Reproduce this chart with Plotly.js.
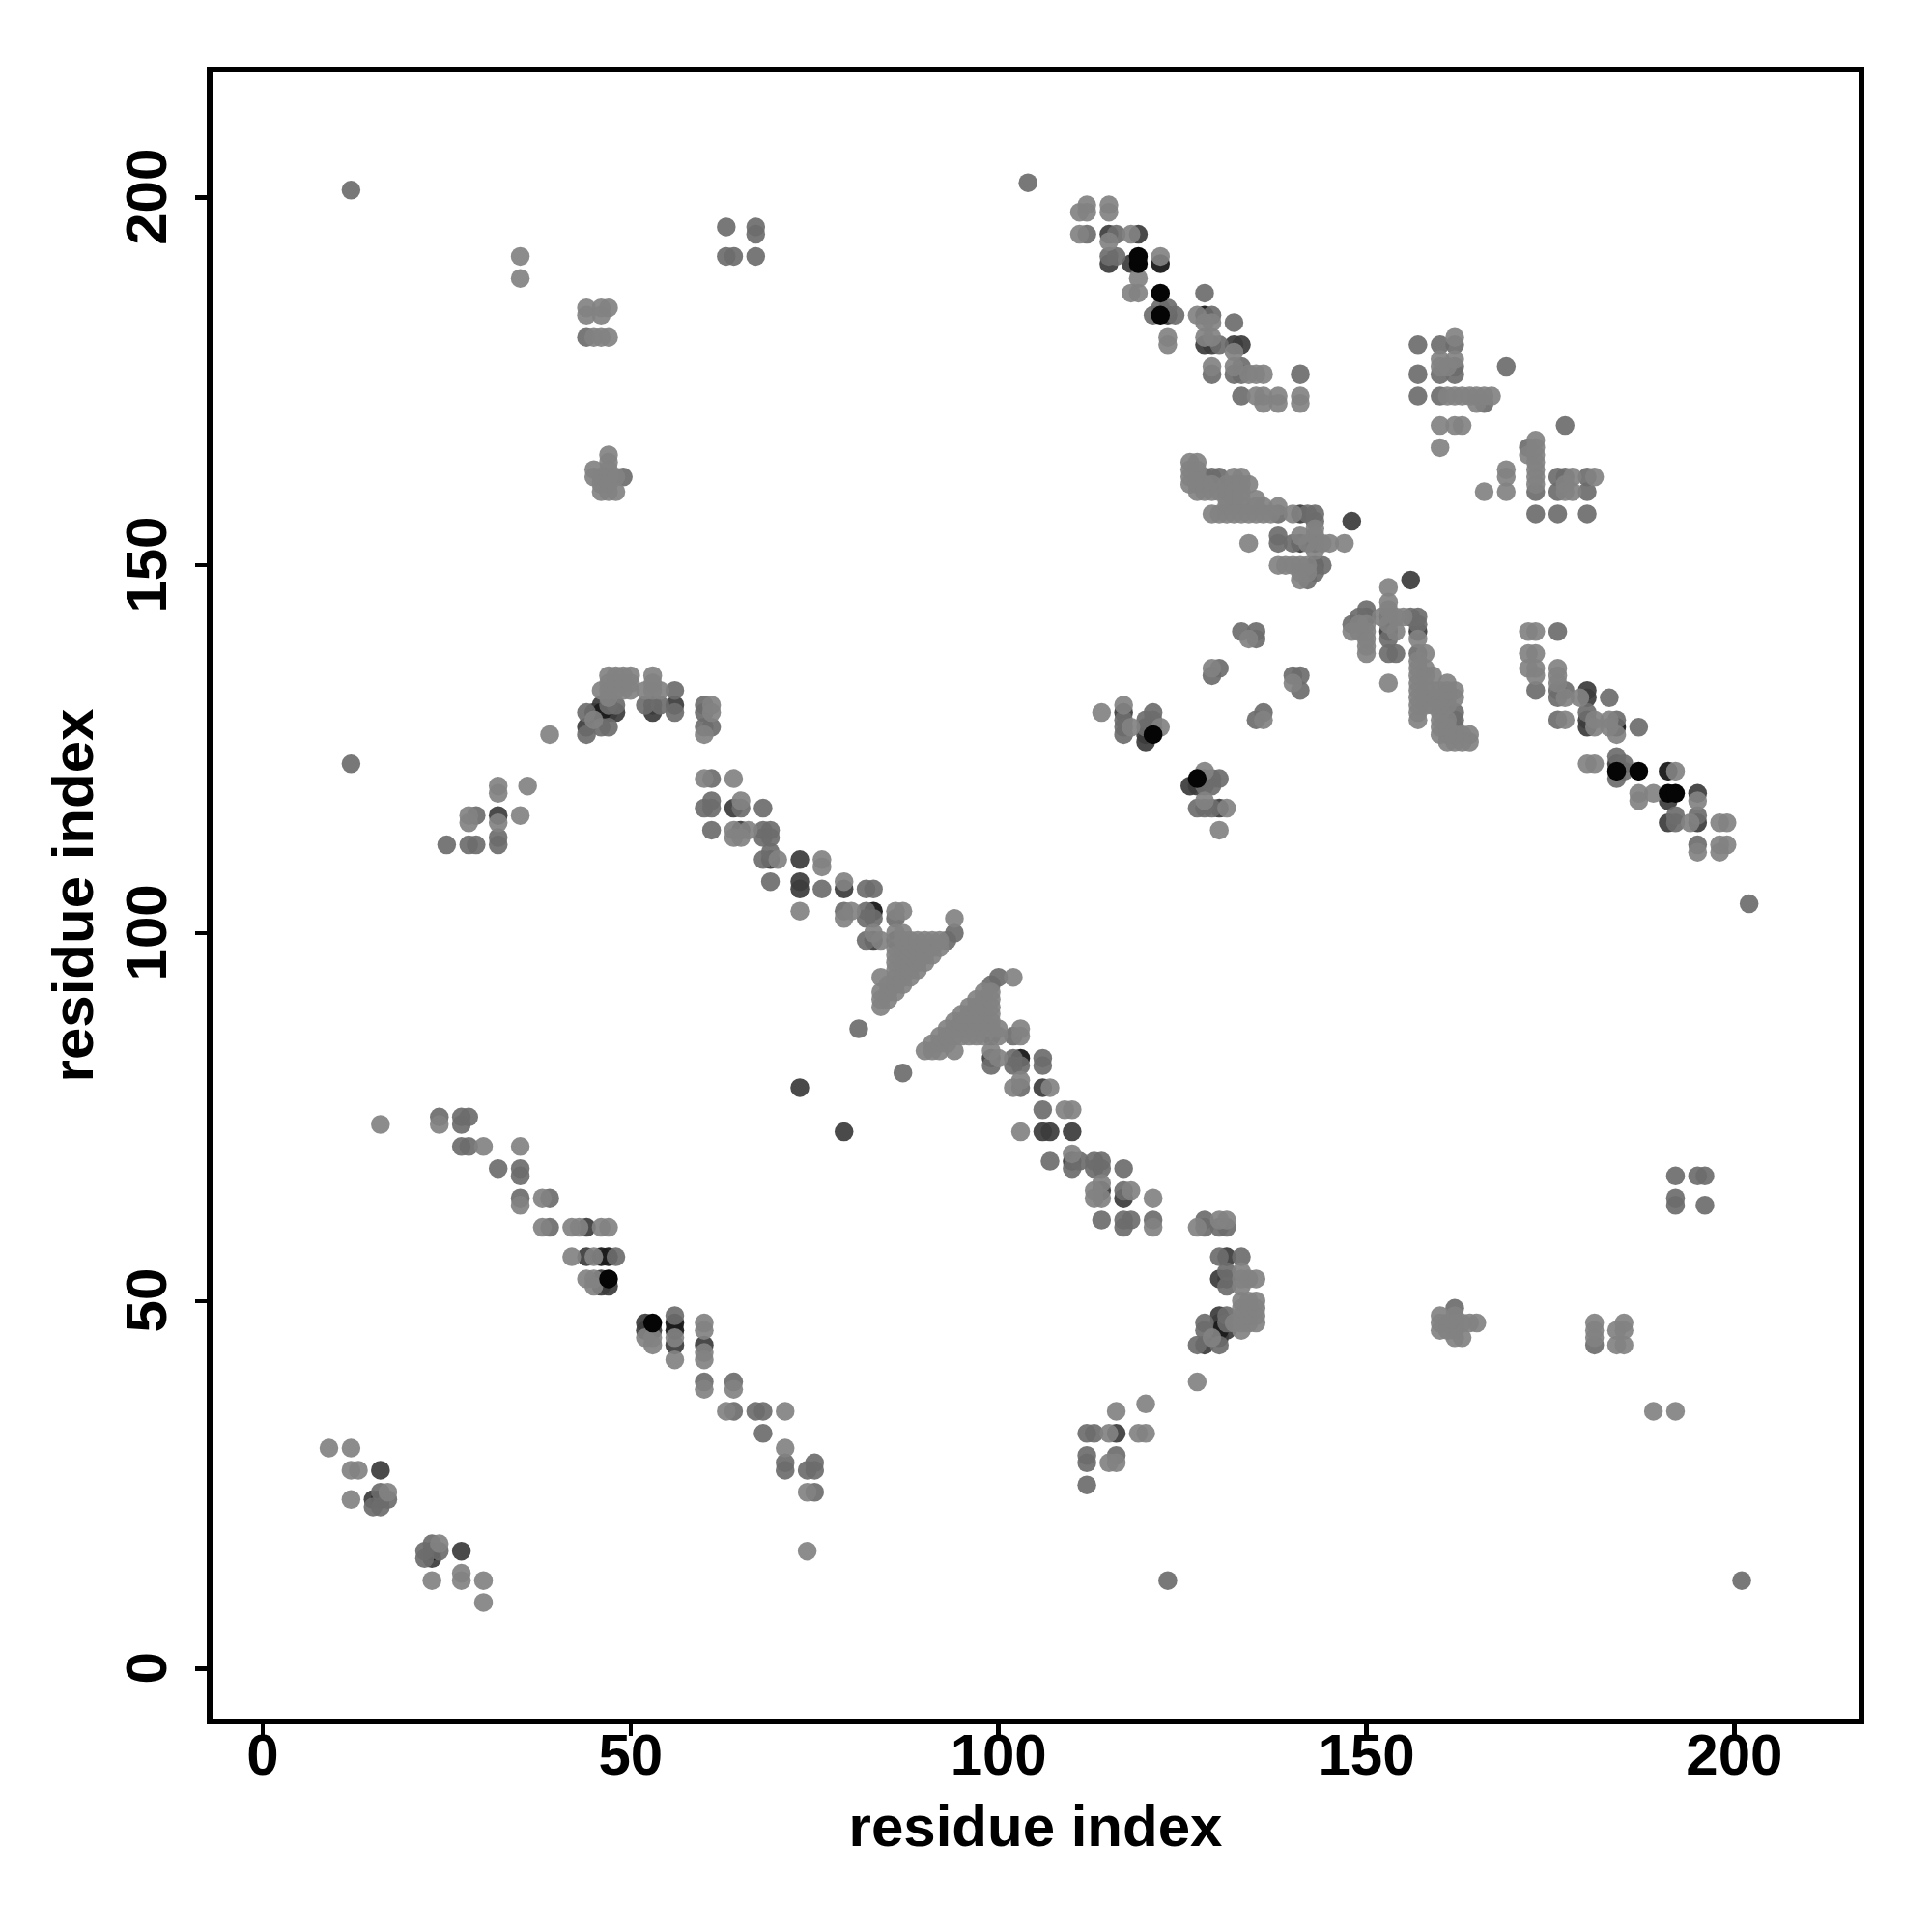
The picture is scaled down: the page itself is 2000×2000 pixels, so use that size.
<!DOCTYPE html>
<html><head><meta charset="utf-8">
<script src="https://cdn.plot.ly/plotly-3.0.1.min.js"></script>
<style>html,body{margin:0;padding:0;background:#fff}</style></head>
<body><div id="chart" style="width:2000px;height:2000px"></div>
<script>
const contactsBlack = [[47,53],[119,191],[119,192],[122,187],[122,184],[121,127]];
const contactsVeryDark = [[47,56],[46,56],[83,103],[122,191],[16,23],[143,153],[128,184],[46,130]];
const contactsDark = [[16,27],[15,23],[44,60],[44,56],[46,53],[46,52],[47,52],
 [47,130],[48,130],[53,130],[56,131],[32,116],[73,110],[73,107],[73,106],[79,106],[83,99],[86,99],
 [64,117],[65,114],[69,110],[73,79],[115,195],[119,195],[115,191],[118,191],[123,184],[128,180],[129,180],
 [132,180],[133,180],[141,157],[148,156],[141,153],[143,150],[120,126],[120,127],[127,120],[130,117],
 [131,56],[130,53],[131,53],[128,44],[130,45],[130,47],[131,46]];
const contactsMid = [[15,22],[16,22],[16,24],[17,23],[12,201],[12,123],[24,75],[27,75],[27,74],[28,75],[27,71],[28,71],
 [32,68],[35,68],[35,67],[35,64],[39,64],[39,60],[48,56],[63,196],[67,196],[67,195],[63,192],[64,192],[67,192],[44,181],
 [49,162],[44,130],[44,128],[44,127],[46,128],[46,131],[47,131],[48,131],[53,131],[54,131],[56,130],[52,131],[56,133],
 [25,112],[28,112],[29,112],[32,112],[32,113],[29,116],[60,131],[60,130],[60,128],[61,128],[61,121],[61,118],[60,117],
 [61,117],[65,117],[68,117],[61,114],[68,114],[69,114],[68,113],[69,113],[69,111],[68,110],[69,107],[76,106],[82,106],
 [83,106],[79,103],[82,103],[82,102],[83,102],[86,102],[82,99],[94,100],[93,99],[81,87],[104,202],
 [115,192],[116,192],[112,195],[116,195],[128,187],[121,184],[123,185],[122,185],[124,184],[129,184],[132,183],
 [130,180],[129,176],[132,176],[133,176],[133,177],[133,173],[141,176],
 [129,162],[130,162],[128,162],[143,157],[143,156],[142,157],[144,150],[143,149],[142,148],
 [138,154],[138,153],[140,153],[138,157],[133,141],[135,140],[135,141],[130,136],[131,52],[133,56],
 [117,127],[117,128],[117,129],[120,128],[121,128],[121,129],[127,117],[128,117],[129,120],[129,117],[130,121],
 [128,47],[128,46],[130,46],[131,47],[131,48],[130,48],[131,54],[130,56],[162,177],[162,176],[160,176],[162,180],
 [157,180],[157,176],[157,173],[160,173],[166,172],[169,177],[150,144],[160,180],[129,135]];
const contactsLight = [[9,30],[12,30],[12,27],[13,27],[12,23],[17,24],[16,74],[24,74],[30,71],[35,71],[35,63],[38,64],[38,60],
 [42,60],[43,60],[46,60],[47,60],[42,56],[45,56],[44,53],[45,53],[45,52],[35,192],[35,189],
 [44,185],[44,184],[46,185],[46,184],[47,185],[45,181],[46,181],[47,181],
 [47,165],[47,164],[45,163],[47,163],[45,162],[46,162],[47,162],[48,162],[46,161],[47,161],[46,160],[47,160],[48,160],
 [39,127],[45,129],[46,133],[47,128],[47,132],[47,133],[47,134],[47,135],[48,133],[48,134],[48,135],[49,133],[49,134],[49,135],[50,133],[50,134],[50,135],
 [52,133],[53,133],[53,135],[54,133],
 [28,116],[28,115],[32,115],[35,116],[32,120],[32,119],[36,120],
 [61,131],[61,130],[60,127],[60,121],[64,121],[65,118],[64,114],[66,114],[64,113],[65,113],[70,110],[73,103],[76,110],[76,109],
 [79,107],[79,102],[80,103],[86,103],[87,103],[83,100],[84,99],[86,100],[87,100],[94,102],
 [84,90],[84,91],[84,92],[84,94],[85,91],[85,92],[85,93],
 [86,92],[86,93],[86,94],[86,95],[86,96],[86,97],[86,98],
 [87,93],[87,94],[87,95],[87,96],[87,97],[87,98],[87,99],
 [88,94],[88,95],[88,96],[88,97],[88,98],[88,99],[89,95],[89,96],[89,97],[89,98],[89,99],
 [90,96],[90,97],[90,98],[90,99],[91,97],[91,98],[91,99],[92,98],[92,99],
 [112,199],[111,198],[112,198],[115,199],[115,198],[111,195],[118,195],[115,194],
 [119,189],[118,187],[119,187],[122,192],[127,184],[128,183],[129,183],[123,181],[123,180],[128,181],[129,181],
 [129,177],[132,177],[134,176],[135,176],[136,176],[135,173],[136,173],[138,173],[136,172],[138,172],[141,173],[141,172],
 [126,164],[126,163],[126,162],[126,161],[127,162],[127,161],[127,160],[128,161],[128,160],[129,161],[129,160],[130,160],
 [131,161],[131,160],[131,159],[131,158],[132,162],[132,161],[132,160],[132,159],[132,158],[133,162],[133,161],[133,160],[133,159],[133,158],[134,161],[135,158],[136,158],
 [129,157],[130,157],[131,157],[132,157],[133,157],[134,157],[135,157],[136,157],[137,157],[138,158],[140,157],
 [143,155],[143,154],[143,152],[144,153],[145,153],[142,153],
 [134,153],[141,154],[147,153],[138,150],[139,150],[140,150],[141,150],[142,150],[141,149],[142,149],[141,148],
 [134,140],[140,134],[141,135],[129,136],
 [114,130],[117,131],[117,130],[118,128],[120,129],[121,130],[122,128],[128,118],[128,120],[128,122],[129,121],[130,114],[131,117],
 [128,61],[127,60],[128,60],[130,61],[131,61],[130,60],[131,60],[133,54],[133,53],[134,53],[135,53],[133,52],
 [133,50],[133,49],[133,48],[133,47],[134,50],[134,49],[134,48],[134,47],[135,50],[135,49],[135,48],[135,47],[127,39],
 [123,12],[201,12],
 [157,143],[156,143],[149,143],[149,142],[148,142],[148,141],[150,143],[150,142],[150,141],[150,140],[150,139],[152,143],[154,143],[154,141],[153,147],[153,145],[153,144],[153,142],[153,140],[153,141],
 [153,138],[154,138],[157,138],[158,138],[157,142],[157,141],[157,140],
 [172,141],[173,141],[176,141],[172,138],[173,138],[172,136],[173,136],[173,135],[173,133],[176,136],[176,135],[176,134],[176,133],[176,132],[177,133],[177,132],[179,132],[183,132],
 [176,129],[177,129],[180,130],[180,129],[181,129],[181,128],[183,129],[184,129],[184,127],[187,128],[180,123],[181,123],[184,124],[184,123],[184,121],[185,123],[185,122],
 [191,122],[192,122],[187,119],[187,118],[189,119],[195,118],[192,116],[195,116],[192,115],[194,115],[198,115],[199,115],[195,112],[195,111],[198,112],[198,111],[199,112],
 [161,134],[162,133],[162,132],[162,130],[162,129],[162,128],[164,126],[160,127],[158,136],[159,135],[159,133],[158,132],[159,131],[160,129],[161,128],[163,127],[164,127],
 [161,173],[162,173],[163,173],[164,173],[165,173],[167,173],[165,172],[166,173],[160,177],[161,177],[162,181],[162,178],[160,178],
 [160,169],[162,169],[163,169],[160,166]];

const shades = [
  {pairs: contactsDark, color: 'rgba(60,60,60,0.93)'},
  {pairs: contactsVeryDark, color: 'rgba(28,28,28,0.96)'},
  {pairs: contactsMid, color: 'rgba(108,108,108,0.92)'},
  {pairs: contactsLight, color: 'rgba(130,130,130,0.92)'},
  {pairs: contactsBlack, color: 'rgba(5,5,5,1)'}
];
// Each contact is drawn once on each side of the diagonal, in its darkest listed shade
const seen = new Set();
[shades[4], shades[1], shades[0], shades[2], shades[3]].forEach(s => {
  s.pairs = s.pairs.filter(p => {
    const key = Math.min(p[0], p[1]) + '-' + Math.max(p[0], p[1]);
    if (seen.has(key)) return false;
    seen.add(key);
    return true;
  });
});
const data = shades.map(s => ({
  type: 'scatter', mode: 'markers', hoverinfo: 'skip',
  x: s.pairs.map(p => p[0]).concat(s.pairs.map(p => p[1])),
  y: s.pairs.map(p => p[1]).concat(s.pairs.map(p => p[0])),
  marker: {size: 19.5, color: s.color, line: {width: 0}}
}));
const tickValues = [0,50,100,150,200];
const tickLabels = ['0','50','100','150','200'];
const font = {family: 'Liberation Sans, Arial, sans-serif', size: 60, color: '#000', weight: 700};
const axis = {
  tickmode: 'array', tickvals: tickValues, ticktext: tickLabels,
  showgrid: false, zeroline: false, showline: true, mirror: true, linewidth: 6, linecolor: '#000',
  ticks: 'outside', ticklen: 12, tickwidth: 4.5, tickcolor: '#000', tickfont: font, automargin: false
};
const layout = {
  width: 2000, height: 2000, showlegend: false, paper_bgcolor: '#fff', plot_bgcolor: '#fff',
  margin: {l: 220, r: 75.5, t: 74.5, b: 220.5},
  xaxis: Object.assign({}, axis, {range: [-6.82, 216.88], ticklabelstandoff: -32, title: {text: 'residue index', font: font, standoff: 22}}),
  yaxis: Object.assign({}, axis, {range: [-6.76, 217.0], tickangle: -90, ticktext: tickLabels.map(t => t + '\u00a0'), ticklabelstandoff: 6, title: {text: 'residue index', font: font, standoff: 4}})
};
Plotly.newPlot('chart', data, layout, {displayModeBar: false, staticPlot: true});
</script></body></html>
